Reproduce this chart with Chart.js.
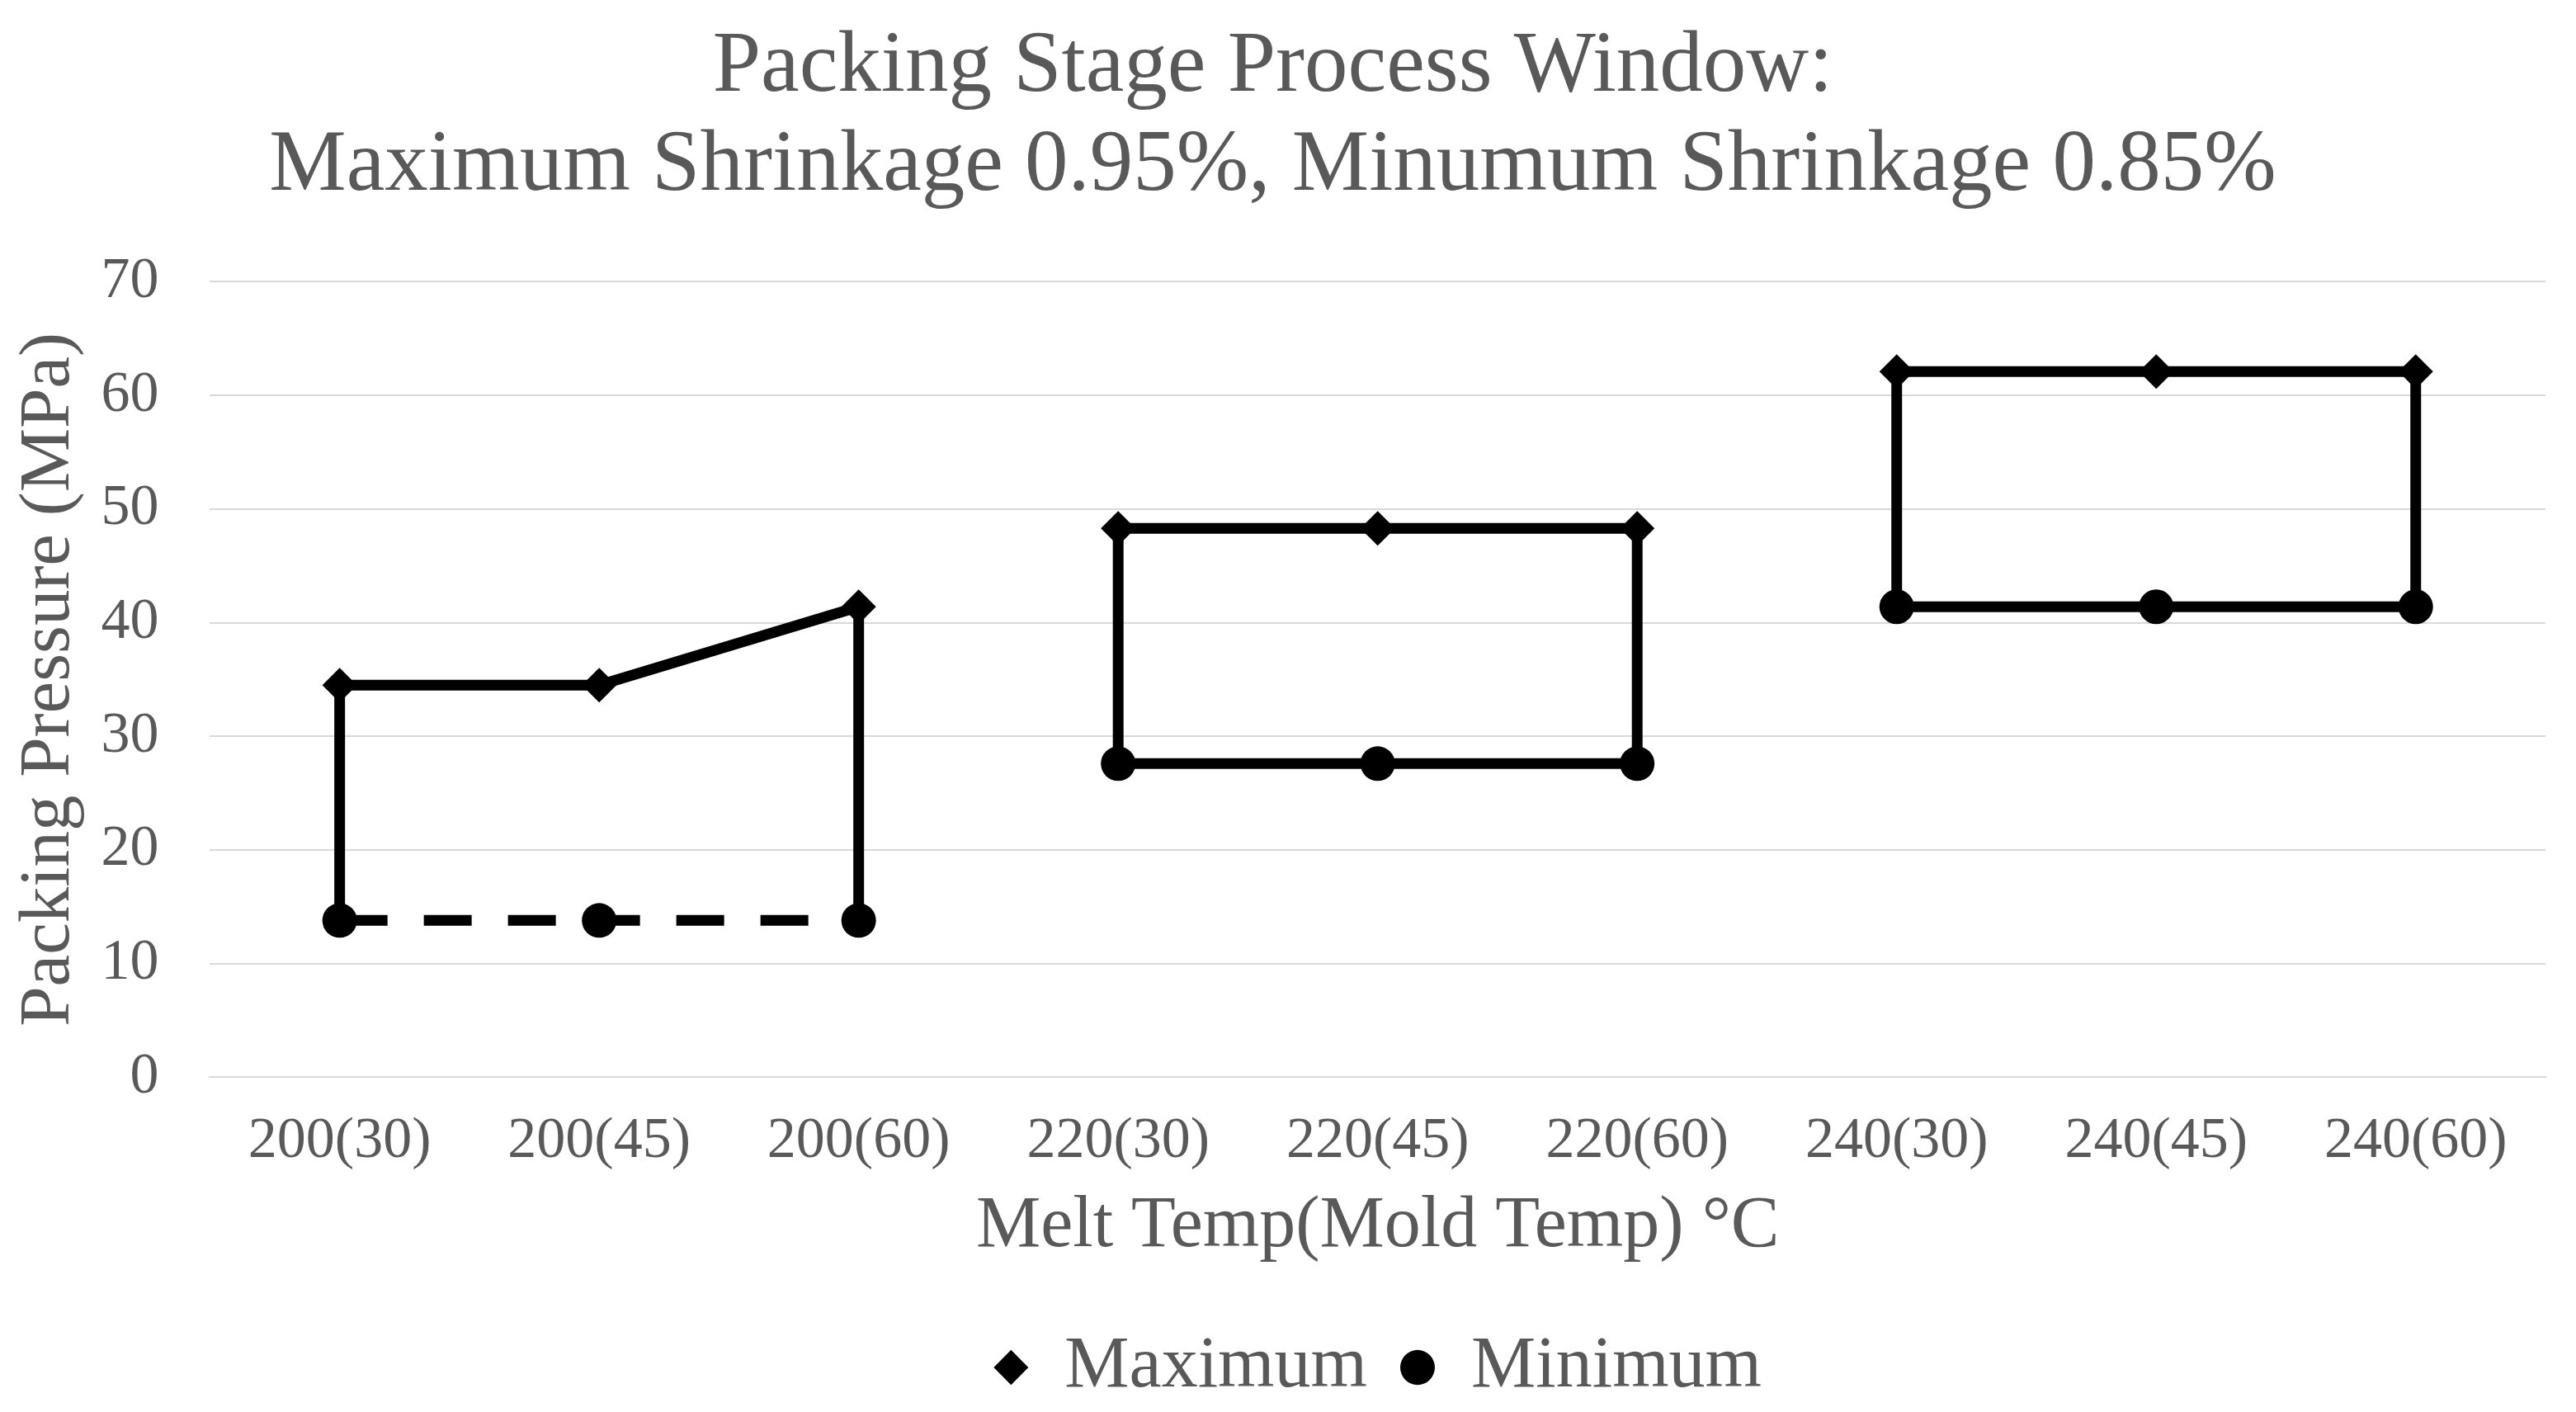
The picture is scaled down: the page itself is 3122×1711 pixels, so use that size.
<!DOCTYPE html>
<html>
<head>
<meta charset="utf-8">
<script src="https://cdn.jsdelivr.net/npm/chart.js@4.4.1/dist/chart.umd.min.js"></script>
<style>
    html, body { margin: 0; padding: 0; background: #fff; }
    #wrap { width: 3122px; height: 1711px; }
</style>
</head>
<body>
<div id="wrap"><canvas id="chart"></canvas></div>
<script>
// values (MPa)
const categories = ['200(30)', '200(45)', '200(60)', '220(30)', '220(45)', '220(60)', '240(30)', '240(45)', '240(60)'];
const maxPressure = [34.5, 34.5, 41.4, 48.3, 48.3, 48.3, 62.1, 62.1, 62.1];
const minPressure = [13.8, 13.8, 13.8, 27.6, 27.6, 27.6, 41.4, 41.4, 41.4];
const titleLines = ['Packing Stage Process Window:', 'Maximum Shrinkage 0.95%, Minumum Shrinkage 0.85%'];

const GREY = '#595959';
const FONT = '"Liberation Serif", "Times New Roman", serif';

// melt temperature groups, lines only join points of the same melt temp
const meltOf = i => categories[i].split('(')[0];
const sameGroup = ctx => meltOf(ctx.p0DataIndex) === meltOf(ctx.p1DataIndex);

// vertical sides of each window, at the first and last point of a group
const edges = [];
categories.forEach((c, i) => {
    const first = i === 0 || meltOf(i) !== meltOf(i - 1);
    const last = i === categories.length - 1 || meltOf(i) !== meltOf(i + 1);
    if (first || last) edges.push(i);
});

const edgeSets = edges.map(i => ({
    label: 'edge' + i,
    data: [{ x: categories[i], y: maxPressure[i] }, { x: categories[i], y: minPressure[i] }],
    borderColor: '#000',
    borderWidth: 13,
    pointRadius: 0,
    order: 5
}));

new Chart(document.getElementById('chart'), {
    type: 'line',
    data: {
        labels: categories,
        datasets: [
            {
                label: 'Maximum',
                data: maxPressure,
                borderColor: '#000',
                backgroundColor: '#000',
                borderWidth: 13,
                pointStyle: 'rectRot',
                pointRadius: 21,
                pointBorderWidth: 0,
                pointBackgroundColor: '#000',
                segment: {
                    borderColor: ctx => sameGroup(ctx) ? '#000' : 'rgba(0,0,0,0)'
                },
                order: 1
            },
            {
                label: 'Minimum',
                data: minPressure,
                borderColor: '#000',
                backgroundColor: '#000',
                borderWidth: 13,
                pointStyle: 'circle',
                pointRadius: 21,
                pointBorderWidth: 0,
                pointBackgroundColor: '#000',
                segment: {
                    borderColor: ctx => sameGroup(ctx) ? '#000' : 'rgba(0,0,0,0)',
                    borderDash: ctx => meltOf(ctx.p0DataIndex) === '200' ? [58, 44] : []
                },
                order: 0
            },
            ...edgeSets
        ]
    },
    options: {
        responsive: true,
        maintainAspectRatio: false,
        animation: false,
        layout: { padding: { top: 0, right: 37, bottom: 0, left: 0 } },
        plugins: {
            tooltip: { enabled: false },
            title: {
                display: true,
                text: titleLines,
                color: GREY,
                font: { family: FONT, size: 105, weight: 'normal', lineHeight: 1.14 },
                padding: { top: 23, bottom: 79 }
            },
            legend: {
                position: 'bottom',
                fullSize: false,
                labels: {
                    filter: item => item.text === 'Maximum' || item.text === 'Minimum',
                    sort: (a, b) => a.datasetIndex - b.datasetIndex,
                    usePointStyle: true,
                    boxHeight: 30,
                    pointStyleWidth: 42,
                    padding: 40,
                    color: GREY,
                    font: { family: FONT, size: 88 }
                }
            }
        },
        scales: {
            x: {
                type: 'category',
                offset: true,
                grid: { display: false, drawTicks: false },
                border: { display: true, color: '#d9d9d9', width: 2 },
                ticks: { color: GREY, padding: 36, font: { family: FONT, size: 70 }, maxRotation: 0, autoSkip: false },
                title: {
                    display: true,
                    text: 'Melt Temp(Mold Temp) °C',
                    color: GREY,
                    font: { family: FONT, size: 88 },
                    padding: { top: -27, bottom: 33 }
                }
            },
            y: {
                min: 0,
                max: 70,
                grid: { color: '#d9d9d9', lineWidth: 2, drawTicks: false },
                border: { display: false },
                ticks: { stepSize: 10, color: GREY, padding: 62, font: { family: FONT, size: 70 } },
                title: {
                    display: true,
                    text: 'Packing Pressure (MPa)',
                    color: GREY,
                    font: { family: FONT, size: 87 },
                    padding: { top: 8, bottom: -52 }
                }
            }
        }
    }
});
</script>
</body>
</html>
